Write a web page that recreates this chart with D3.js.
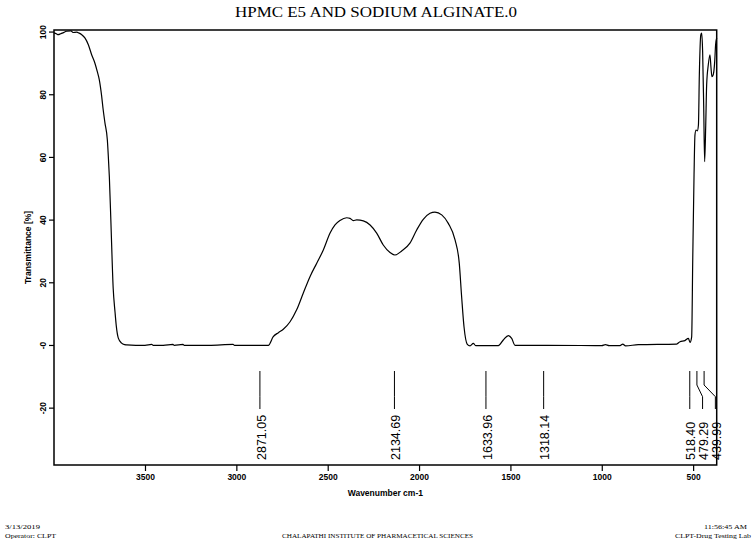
<!DOCTYPE html>
<html>
<head>
<meta charset="utf-8">
<script src="https://cdn.jsdelivr.net/npm/d3@7"></script>
<style>
  body { margin: 0; background: #fff; }
  svg { display: block; }
</style>
</head>
<body>
<div id="chart"></div>
<script>
var width = 756,
    height = 551;

var margin = {left: 54, top: 30, right: 39.3, bottom: 86};

// spectrum
var wavenumber = [3998, 3985, 3975, 3962, 3949, 3929, 3905, 3894, 3874, 3860, 3846, 3828, 3810, 3792, 3774, 3761,
  3750, 3737, 3730, 3719, 3706, 3701, 3695, 3686, 3674, 3664, 3657, 3646, 3628, 3610, 3600, 3550, 3500,
  3463, 3455, 3400, 3347, 3340, 3292, 3285, 3150, 3018, 3010, 2900, 2825, 2798, 2770, 2743, 2706, 2670, 2634,
  2597, 2560, 2524, 2487, 2460, 2433, 2396, 2378, 2360, 2341, 2305, 2268, 2232, 2196, 2159, 2132, 2095, 2050,
  2013, 1977, 1940, 1913, 1876, 1840, 1803, 1780, 1767, 1754, 1736, 1721, 1703, 1690, 1566, 1539, 1511, 1493,
  1475, 1300, 1000, 980, 960, 900, 885, 870, 800, 590, 572, 545, 526, 517, 508, 502, 495, 490, 484, 477, 471,
  466, 458, 453, 448, 442, 437, 431, 426, 417, 408, 402, 397, 390, 382, 377, 371];
var transmittance = [99.6, 99.3, 99.0, 99.3, 99.6, 100.1, 100.2, 99.7, 99.8, 99.5, 99.0, 97.9, 95.8, 92.6, 89.9, 87.2,
  84.6, 79.3, 75.6, 70.8, 65.4, 60.5, 53.5, 38.3, 18.0, 10.5, 6.0, 2.2, 0.6, 0.1, 0, -0.1, -0.1,
  0.2, -0.1, -0.1, 0.2, -0.1, 0.2, -0.1, -0.1, 0.2, -0.1, -0.1, -0.1, 2.65, 3.93, 5.0, 7.4, 11.2, 16.5,
  21.8, 26.1, 30.3, 35.7, 38.3, 39.7, 40.6, 40.4, 39.7, 39.9, 39.6, 38.3, 35.7, 31.9, 29.5, 28.7, 30.0, 32.5,
  36.7, 40.1, 42.0, 42.4, 41.5, 38.8, 33.5, 26.1, 15.4, 5.8, 0.2, -0.3, 0.5, -0.2, -0.2, 1.6, 3.0, 2.1,
  -0.1, -0.1, -0.2, 0.1, -0.2, -0.2, 0.3, -0.3, 0.1, 0.3, 1.05, 1.4, 2.1, 0.8, 2.6, 27.8, 54.3, 67.0, 68.6, 68.3, 70.2,
  86.2, 98.9, 99.5, 93.6, 75.5, 58.5, 70.2, 83.0, 89.4, 92.6, 88.3, 85.6, 86.2, 90.4, 95.8, 98];

var peaks = [2871.05, 2134.69, 1633.96, 1318.14, 518.40, 479.29, 439.99];
var xTicks = [3500, 3000, 2500, 2000, 1500, 1000, 500];
var yTicks = [100, 80, 60, 40, 20, 0, -20];
var yTickLabels = ['100', '80', '60', '40', '20', '-0', '-20'];

var data = wavenumber.map(function(w, i) { return {w: w, t: transmittance[i]}; });

var svg = d3.select('#chart').append('svg')
    .attr('width', width).attr('height', height);

var x = d3.scaleLinear().domain([3998, 371]).range([margin.left, width - margin.right]);
var y = d3.scaleLinear().domain([-38.3, 100.5]).range([height - margin.bottom, margin.top]);

var sans = 'Liberation Sans, Arial, sans-serif',
    serif = 'Liberation Serif, Times New Roman, serif';

// title
svg.append('text')
    .attr('x', 376).attr('y', 16.5)
    .attr('text-anchor', 'middle')
    .attr('font-family', serif).attr('font-size', 15)
    .attr('textLength', 282).attr('lengthAdjust', 'spacingAndGlyphs')
    .text('HPMC E5 AND SODIUM ALGINATE.0');

// spectrum
var line = d3.line()
    .x(function(d) { return x(d.w); })
    .y(function(d) { return y(d.t); })
    .curve(d3.curveMonotoneX);

svg.append('path')
    .datum(data)
    .attr('d', line)
    .attr('fill', 'none')
    .attr('stroke', '#000')
    .attr('stroke-width', 1.2)
    .attr('stroke-linejoin', 'round');

// frame
svg.append('rect')
    .attr('x', x.range()[0]).attr('y', y.range()[1])
    .attr('width', x.range()[1] - x.range()[0])
    .attr('height', y.range()[0] - y.range()[1])
    .attr('fill', 'none').attr('stroke', '#000').attr('stroke-width', 1.5);

// x axis
var xAxis = svg.append('g')
    .attr('transform', 'translate(0,' + y.range()[0] + ')')
    .call(d3.axisBottom(x).tickValues(xTicks).tickSize(6).tickPadding(3).tickFormat(d3.format('d')));
xAxis.select('.domain').remove();
xAxis.selectAll('line').attr('stroke-width', 1.2);
xAxis.selectAll('text')
    .attr('font-family', sans).attr('font-size', 8.5).attr('font-weight', 'bold').attr('fill', '#000');

svg.append('text')
    .attr('x', (x.range()[0] + x.range()[1]) / 2).attr('y', 496)
    .attr('text-anchor', 'middle')
    .attr('font-family', sans).attr('font-size', 8.5).attr('font-weight', 'bold')
    .text('Wavenumber cm-1');

// y axis
var yAxis = svg.append('g')
    .attr('transform', 'translate(' + x.range()[0] + ',0)')
    .call(d3.axisLeft(y).tickValues(yTicks).tickSize(5).tickFormat(function(d, i) { return yTickLabels[i]; }));
yAxis.select('.domain').remove();
yAxis.selectAll('line').attr('stroke-width', 1.2);
yAxis.selectAll('text')
    .attr('x', null).attr('dy', null)
    .attr('text-anchor', 'middle')
    .attr('transform', 'translate(-11,0) rotate(-90)')
    .attr('dy', '0.35em')
    .attr('font-family', sans).attr('font-size', 8.5).attr('font-weight', 'bold').attr('fill', '#000');

svg.append('text')
    .attr('transform', 'translate(28,' + (y.range()[0] + y.range()[1]) / 2 + ') rotate(-90)')
    .attr('text-anchor', 'middle').attr('dy', '0.35em')
    .attr('font-family', sans).attr('font-size', 8.5).attr('font-weight', 'bold')
    .text('Transmittance [%]');

// peak labels, spread apart where they would collide
var labelPos = [];
peaks.forEach(function(p, i) {
  var px = x(p);
  if (i > 0 && px < labelPos[i - 1] + 12.8) px = labelPos[i - 1] + 12.8;
  labelPos.push(px);
});

var peakG = svg.append('g').selectAll('g').data(peaks).enter().append('g');
peakG.append('path')
    .attr('d', function(d, i) {
      var x0 = x(d), x1 = labelPos[i];
      return 'M' + x0 + ',371 L' + x0 + ',385 L' + x1 + ',396.7 L' + x1 + ',409';
    })
    .attr('fill', 'none').attr('stroke', '#000').attr('stroke-width', 1);
peakG.append('text')
    .attr('transform', function(d, i) { return 'translate(' + labelPos[i] + ',460) rotate(-90)'; })
    .attr('dy', '0.45em')
    .attr('font-family', sans).attr('font-size', 12.5)
    .text(function(d) { return d3.format('.2f')(d); });

// footer
var foot = [
  {t: '3/13/2019', x: 5, y: 529, a: 'start', len: 35},
  {t: 'Operator: CLPT', x: 5, y: 538, a: 'start', len: 51},
  {t: 'CHALAPATHI INSTITUTE OF PHARMACETICAL SCIENCES', x: 282, y: 538, a: 'start', len: 191},
  {t: '11:56:45 AM', x: 747, y: 529, a: 'end', len: 43},
  {t: 'CLPT-Drug Testing Lab', x: 751, y: 538, a: 'end', len: 76}
];
svg.append('g').selectAll('text').data(foot).enter().append('text')
    .attr('x', function(d) { return d.x; })
    .attr('y', function(d) { return d.y; })
    .attr('text-anchor', function(d) { return d.a; })
    .attr('textLength', function(d) { return d.len; })
    .attr('lengthAdjust', 'spacingAndGlyphs')
    .attr('font-family', serif).attr('font-size', 7)
    .text(function(d) { return d.t; });
</script>
</body>
</html>
